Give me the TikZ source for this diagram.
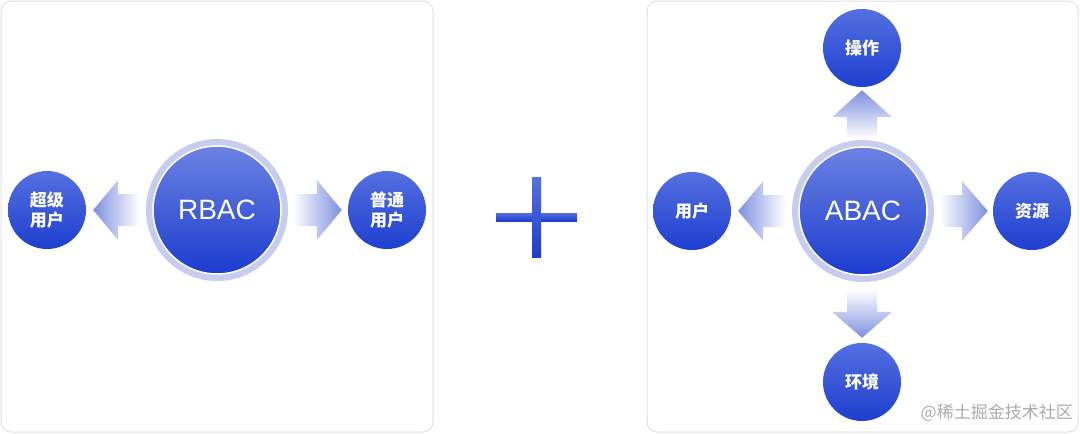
\documentclass[tikz,border=0pt]{standalone}
\usepackage{fontspec}
\setmainfont{Liberation Sans}
\newfontfamily\cjk{Noto Sans CJK SC}
\usetikzlibrary{calc}
\definecolor{ringc}{HTML}{C8CDEF}
\definecolor{ctop}{HTML}{6C82E2}
\definecolor{cbot}{HTML}{1C3CCF}
\definecolor{stop}{HTML}{5570E0}
\definecolor{sbot}{HTML}{1E3ECF}
\definecolor{arrowc}{HTML}{7F90DE}
\definecolor{panelc}{HTML}{E2E2E2}
\definecolor{wmc}{HTML}{ABABAB}
\tikzset{
  panel/.style={draw=panelc, line width=1pt, fill=white, rounded corners=10pt},
  ring/.style={circle, minimum size=142pt, inner sep=0pt, fill=ringc},
  bigc/.style={circle, minimum size=128pt, inner sep=0pt, draw=white, line width=1.5pt,
    top color=ctop, bottom color=cbot, text=white, font=\fontsize{28}{30}\selectfont},
  smallc/.style={circle, minimum size=78pt, inner sep=0pt, top color=stop, bottom color=sbot,
    text=white, align=center, font=\cjk\bfseries\fontsize{17}{20}\selectfont},
  plusbar/.style={top color=stop, bottom color=sbot},
  wm/.style={text=wmc, font=\cjk\fontsize{17}{20}\selectfont, inner sep=0pt}
}
\begin{document}
\begin{tikzpicture}[x=1pt,y=-1pt]
\useasboundingbox (0,0) rectangle (1080,434);
\fill[white] (0,0) rectangle (1080,434);
\draw[panel] (1,1) rectangle (433,432);
\draw[panel] (647,1) rectangle (1078,432);

% RBAC side
\node[ring] (rbacring) at (217,210) {};
\node[bigc] (rbac) at (217,210) {RBAC};
\node[smallc] (su) at (47,210) {超级\\用户};
\node[smallc] (pu) at (387,210) {普通\\用户};

\path[shade, left color=arrowc, middle color=arrowc!75!white, right color=white]
  ($(su.east)+(7,0)$) -- ++(25,-30) -- ++(0,14) -- ++(21,0) -- ++(0,32) -- ++(-21,0) -- ++(0,14) -- cycle;
\path[shade, left color=white, middle color=arrowc!75!white, right color=arrowc]
  ($(pu.west)+(-6,0)$) -- ++(-25,-30) -- ++(0,14) -- ++(-24,0) -- ++(0,32) -- ++(24,0) -- ++(0,14) -- cycle;

% plus
\node[plusbar, minimum width=81pt, minimum height=8pt, inner sep=0pt] (plush) at (536.5,217) {};
\node[plusbar, minimum width=9pt, minimum height=80pt, inner sep=0pt] (plusv) at (536.5,217) {};

% ABAC side
\node[ring] (abacring) at (863,211) {};
\node[bigc] (abac) at (863,211) {ABAC};
\node[smallc] (user) at (692,211) {用户};
\node[smallc] (res) at (1032,211) {资源};
\node[smallc] (op) at (862,48) {操作};
\node[smallc] (env) at (862,382) {环境};

\path[shade, left color=arrowc, middle color=arrowc!75!white, right color=white]
  ($(user.east)+(7,0)$) -- ++(25,-30) -- ++(0,14) -- ++(22,0) -- ++(0,32) -- ++(-22,0) -- ++(0,14) -- cycle;
\path[shade, left color=white, middle color=arrowc!75!white, right color=arrowc]
  ($(res.west)+(-5,0)$) -- ++(-26,-30) -- ++(0,14) -- ++(-22,0) -- ++(0,32) -- ++(22,0) -- ++(0,14) -- cycle;
\path[shade, top color=arrowc, middle color=arrowc!75!white, bottom color=white]
  ($(op.south)+(0,3)$) -- ++(-30,27) -- ++(15,0) -- ++(0,21) -- ++(30,0) -- ++(0,-21) -- ++(15,0) -- cycle;
\path[shade, top color=white, middle color=arrowc!75!white, bottom color=arrowc]
  ($(env.north)+(0,-5)$) -- ++(-30,-26) -- ++(15,0) -- ++(0,-22) -- ++(30,0) -- ++(0,22) -- ++(15,0) -- cycle;

\node[wm, anchor=east] (wm) at (1073,413) {@稀土掘金技术社区};
\end{tikzpicture}
\end{document}
